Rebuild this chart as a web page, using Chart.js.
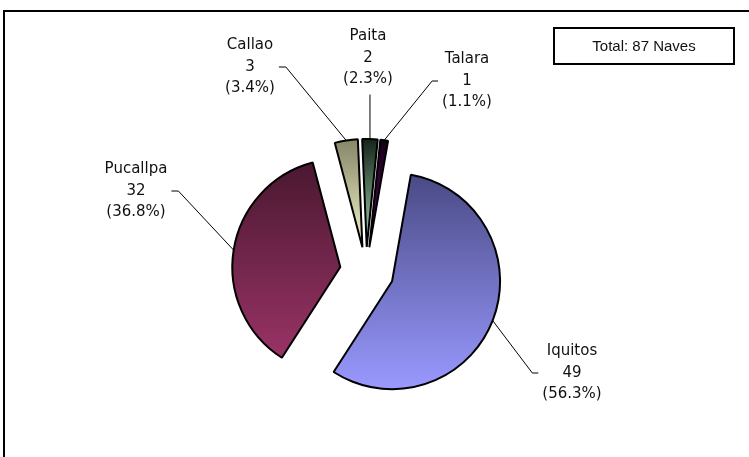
<!DOCTYPE html>
<html lang="es">

<head>
    <meta charset="UTF-8">
    <title>Naves por puerto</title>
    <script src="https://cdn.jsdelivr.net/npm/chart.js@4.4.0/dist/chart.umd.min.js"></script>
    <style>
        body {
            margin: 0;
            background-color: #ffffff;
            overflow: hidden;
        }

        .wrap {
            position: relative;
            width: 749px;
            height: 457px;
        }

        .frame {
            position: absolute;
            left: 3px;
            top: 10px;
            width: 760px;
            height: 460px;
            border-left: 2px solid #000;
            border-top: 2px solid #000;
            pointer-events: none;
        }

        .total {
            position: absolute;
            left: 553px;
            top: 27px;
            width: 178px;
            height: 34px;
            border: 2px solid #000;
            font-family: "Liberation Sans", Arial, sans-serif;
            font-size: 15px;
            line-height: 34px;
            text-align: center;
            color: #111;
        }
    </style>
</head>

<body>
    <div class="wrap">
        <canvas id="navesChart"></canvas>
        <div class="frame"></div>
        <div class="total" id="totalBox"></div>
    </div>

    <script>
        // data
        const puertos = ['Iquitos', 'Pucallpa', 'Callao', 'Paita', 'Talara'];
        const naves = [49, 32, 3, 2, 1];

        // colours: base (bottom of gradient) and dark (top of gradient)
        const baseColors = ['#9999ff', '#993366', '#f4f4c4', '#a4dab2', '#660066'];
        const darkColors = ['#4a4a86', '#4a1830', '#86866a', '#16241a', '#160016'];

        // how far each slice is pulled out, and where its label sits
        const explode = [28, 26, 24, 24, 24];
        const labelPos = [[572, 373], [136, 191], [250, 67], [368, 58], [467, 81]];
        const labelSide = ['left', 'right', 'right', 'bottom', 'left'];

        const total = naves.reduce((a, b) => a + b, 0);
        document.getElementById('totalBox').textContent = 'Total: ' + total + ' Naves';

        function sliceGeom(arc, i) {
            const p = arc.getProps(['x', 'y', 'startAngle', 'endAngle', 'outerRadius'], true);
            const mid = (p.startAngle + p.endAngle) / 2;
            return { p: p, mid: mid, dx: Math.cos(mid) * explode[i], dy: Math.sin(mid) * explode[i] };
        }

        // exploded slices with a vertical gradient each
        const explodePlugin = {
            id: 'explode',
            beforeDatasetDraw(chart, args) {
                const ctx = chart.ctx;
                args.meta.data.forEach((arc, i) => {
                    const g = sliceGeom(arc, i);
                    const p = g.p;
                    let ys = [p.y, p.y + Math.sin(p.startAngle) * p.outerRadius, p.y + Math.sin(p.endAngle) * p.outerRadius];
                    for (let k = -2; k <= 4; k++) {
                        const a = Math.PI / 2 + k * Math.PI;
                        if (a > p.startAngle && a < p.endAngle) ys.push(p.y + Math.sin(a) * p.outerRadius);
                    }
                    const grad = ctx.createLinearGradient(0, Math.min(...ys), 0, Math.max(...ys));
                    grad.addColorStop(0, darkColors[i]);
                    grad.addColorStop(1, baseColors[i]);
                    arc.options.backgroundColor = grad;
                    ctx.save();
                    ctx.translate(g.dx, g.dy);
                    arc.draw(ctx);
                    ctx.restore();
                });
                return false;
            },
            afterDraw(chart) {
                const ctx = chart.ctx;
                const meta = chart.getDatasetMeta(0);
                ctx.save();
                ctx.font = '15px "DejaVu Sans", sans-serif';
                ctx.fillStyle = '#111';
                ctx.textAlign = 'center';
                ctx.textBaseline = 'middle';
                const lh = 21.5;
                meta.data.forEach((arc, i) => {
                    const g = sliceGeom(arc, i);
                    const r = g.p.outerRadius + explode[i];
                    const ax = g.p.x + Math.cos(g.mid) * r;
                    const ay = g.p.y + Math.sin(g.mid) * r;
                    const lines = [puertos[i], String(naves[i]), '(' + (naves[i] / total * 100).toFixed(1) + '%)'];
                    const [lx, ly] = labelPos[i];
                    lines.forEach((t, k) => ctx.fillText(t, lx, ly + (k - 1) * lh));

                    // leader line
                    const w = Math.max(...lines.map(t => ctx.measureText(t).width));
                    let sx, sy, ex, ey;
                    if (labelSide[i] === 'right') {
                        sx = lx + w / 2 + 4; sy = ly; ex = sx + 7; ey = ly;
                    } else if (labelSide[i] === 'left') {
                        sx = lx - w / 2 - 4; sy = ly; ex = sx - 6; ey = ly;
                    } else {
                        sx = ax; sy = ly + lh + 15; ex = ax; ey = sy;
                    }
                    ctx.beginPath();
                    ctx.strokeStyle = '#000';
                    ctx.lineWidth = 1;
                    ctx.moveTo(sx, sy);
                    ctx.lineTo(ex, ey);
                    ctx.lineTo(ax, ay);
                    ctx.stroke();
                });
                ctx.restore();
            }
        };

        const ctxNaves = document.getElementById('navesChart').getContext('2d');
        const navesChart = new Chart(ctxNaves, {
            type: 'pie',
            data: {
                labels: puertos,
                datasets: [{
                    data: naves,
                    backgroundColor: baseColors,
                    borderColor: '#000',
                    borderWidth: 2
                }]
            },
            options: {
                responsive: true,
                maintainAspectRatio: false,
                animation: false,
                rotation: 10,
                radius: 108,
                layout: {
                    padding: { left: 0, right: 17, top: 85, bottom: 0 }
                },
                plugins: {
                    legend: { display: false },
                    tooltip: { enabled: false }
                }
            },
            plugins: [explodePlugin]
        });
    </script>
</body>

</html>
